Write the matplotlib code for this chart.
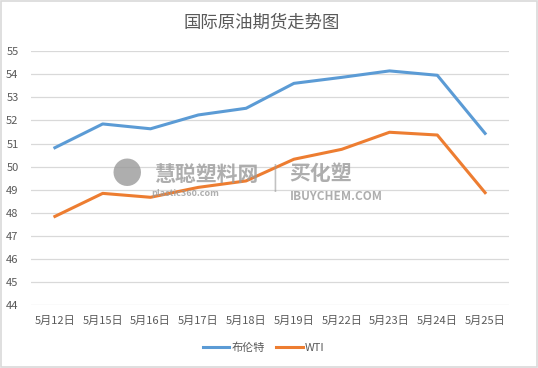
import matplotlib
matplotlib.use("Agg")
import matplotlib.pyplot as plt
import numpy as np
from matplotlib.patches import Rectangle

plt.rcParams['font.family'] = ['Noto Sans CJK SC', 'DejaVu Sans']

dates = ["5月12日", "5月15日", "5月16日", "5月17日", "5月18日",
         "5月19日", "5月22日", "5月23日", "5月24日", "5月25日"]
brent = [50.82, 51.85, 51.64, 52.24, 52.53, 53.61, 53.87, 54.15, 53.96, 51.44]
wti = [47.84, 48.84, 48.67, 49.10, 49.38, 50.32, 50.75, 51.49, 51.37, 48.87]
y_ticks = list(range(44, 56))

text_col = "#595959"

fig = plt.figure(figsize=(5.38, 3.68), dpi=100)
fig.patch.set_facecolor("white")
# light border round the whole chart
fig.patches.append(Rectangle((0.002, 0.003), 0.996, 0.994, transform=fig.transFigure,
                             fill=False, edgecolor="#d9d9d9", linewidth=1.2))

ax = fig.add_axes([31 / 538, 1 - 305 / 368, 478 / 538, (305 - 51.3) / 368])
x = np.arange(len(dates))
ax.plot(x, brent, color="#5B9BD5", linewidth=2.2, label="布伦特", zorder=3)
ax.plot(x, wti, color="#ED7D31", linewidth=2.2, label="WTI", zorder=3)

ax.set_xlim(-0.5, len(dates) - 0.5)
ax.set_ylim(44, 55)
ax.set_yticks(y_ticks)
ax.set_xticks(x)
ax.set_xticklabels(dates)
ax.grid(axis="y", color="#d9d9d9", linewidth=0.9)
ax.set_axisbelow(True)
for s in ax.spines.values():
    s.set_visible(False)
ax.tick_params(axis="both", length=0, colors=text_col, labelsize=8)
ax.tick_params(axis="x", pad=8)
ax.tick_params(axis="y", pad=9)

fig.text(0.487, 1 - 23 / 368, "国际原油期货走势图", ha="center", va="center",
         fontsize=12.5, color=text_col)

# faint watermark
wm = "#9a9a9a"
fig.text(0.235, 1 - 176 / 368, "●", ha="center", va="center", fontsize=22,
         color=wm, alpha=0.8)
fig.text(0.385, 1 - 174 / 368, "慧聪塑料网", ha="center", va="center", fontsize=15,
         color=wm, alpha=0.8, fontweight="bold")
fig.text(0.345, 1 - 194 / 368, "plastic360.com", ha="center", va="center", fontsize=6.5,
         color=wm, alpha=0.8, fontweight="bold")
fig.text(0.51, 1 - 178 / 368, "|", ha="center", va="center", fontsize=18,
         color=wm, alpha=0.6)
fig.text(0.595, 1 - 174 / 368, "买化塑", ha="center", va="center", fontsize=15,
         color=wm, alpha=0.8, fontweight="bold")
fig.text(0.625, 1 - 196 / 368, "IBUYCHEM.COM", ha="center", va="center", fontsize=8.5,
         color=wm, alpha=0.8, fontweight="bold", style="italic")

leg = fig.legend(loc="center", bbox_to_anchor=(0.49, 1 - 348 / 368), ncol=2, frameon=False,
                 fontsize=8, handlelength=2.4, columnspacing=1.0, handletextpad=0.2)
for t in leg.get_texts():
    t.set_color(text_col)

fig.savefig("out.png", dpi=100, facecolor="white")
